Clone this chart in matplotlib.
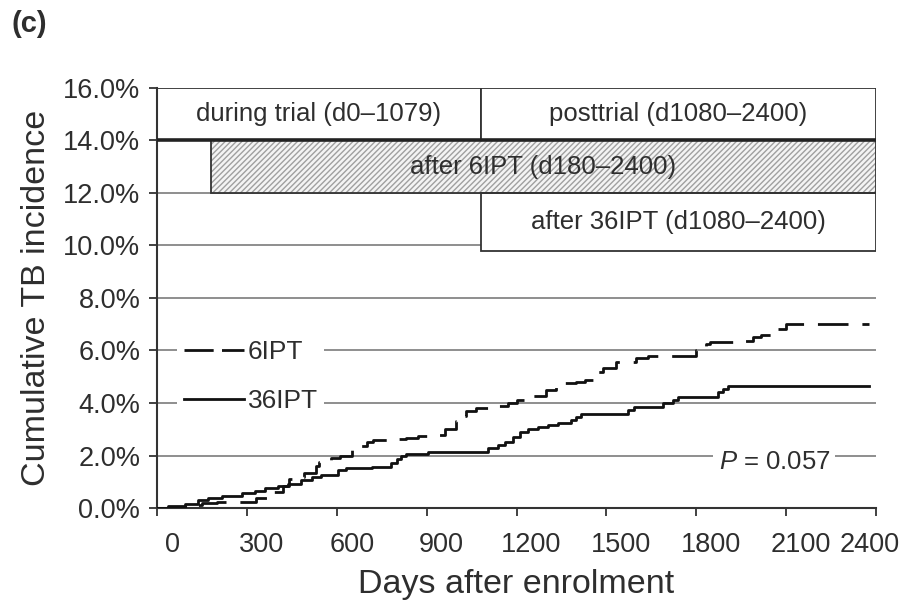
import matplotlib.pyplot as plt
import matplotlib.transforms as mtransforms
from matplotlib.patches import Rectangle
from matplotlib.lines import Line2D

plt.rcParams['font.family'] = ['Liberation Sans', 'DejaVu Sans']
plt.rcParams['mathtext.fontset'] = 'custom'
plt.rcParams['mathtext.it'] = 'Liberation Sans:italic'
plt.rcParams['mathtext.rm'] = 'Liberation Sans'
plt.rcParams['lines.scale_dashes'] = False

# Kaplan-Meier style cumulative incidence (days, %)
days_36ipt = [0, 38, 93, 138, 171, 216, 282, 327, 360, 404, 438, 482, 516, 549,
              604, 630, 716, 782, 800, 816, 830, 904, 1104, 1138, 1160, 1188,
              1210, 1238, 1271, 1304, 1338, 1382, 1399, 1416, 1571, 1593, 1688,
              1721, 1738, 1872, 1890, 1905, 2375]
inc_36ipt = [0.0, 0.08, 0.15, 0.30, 0.39, 0.45, 0.57, 0.66, 0.76, 0.84, 0.90,
             1.07, 1.17, 1.26, 1.45, 1.52, 1.57, 1.71, 1.85, 2.00, 2.06, 2.15,
             2.28, 2.40, 2.50, 2.70, 2.91, 3.00, 3.07, 3.16, 3.25, 3.35, 3.48,
             3.60, 3.74, 3.84, 3.99, 4.10, 4.24, 4.40, 4.55, 4.65, 4.65]

days_6ipt = [0, 40, 100, 150, 200, 330, 380, 420, 440, 452, 490, 530, 540, 565,
             582, 610, 650, 670, 700, 721, 780, 832, 870, 900, 960, 999, 1010,
             1030, 1066, 1130, 1171, 1200, 1230, 1249, 1300, 1332, 1400, 1427,
             1465, 1490, 1532, 1600, 1638, 1800, 1832, 1845, 1930, 1990, 2016,
             2060, 2099, 2375]
inc_6ipt = [0.0, 0.05, 0.12, 0.20, 0.24, 0.40, 0.60, 0.85, 1.10, 1.17, 1.35,
            1.60, 1.76, 1.82, 1.89, 2.00, 2.21, 2.35, 2.50, 2.59, 2.64, 2.68,
            2.75, 2.80, 3.00, 3.30, 3.50, 3.70, 3.80, 3.90, 4.00, 4.10, 4.20,
            4.28, 4.50, 4.75, 4.80, 4.88, 5.19, 5.35, 5.57, 5.70, 5.80, 6.00,
            6.23, 6.33, 6.37, 6.50, 6.59, 6.80, 7.01, 7.01]

period_labels = ['during trial (d0\u20131079)', 'posttrial (d1080\u20132400)',
                 'after 6IPT (d180\u20132400)', 'after 36IPT (d1080\u20132400)']
period_start = [0, 1080, 180, 1080]
period_end = [1080, 2400, 2400, 2400]

x_ticks = list(range(0, 2401, 300))
y_ticks = list(range(0, 17, 2))

txt = '#2e2e2e'
grid_c = '#7c7c7c'

fig = plt.figure(figsize=(9.05, 6.01), dpi=100)
ax = fig.add_axes([0.1735, 0.1547, 0.7945, 0.699])

# gridlines
for y in y_ticks[1:-1]:
    ax.axhline(y, color=grid_c, lw=1.2, zorder=1)

# period boxes (rows: 14-16, 12-14, 9.8-12)
rows = [(14, 2), (14, 2), (12, 2), (9.8, 2.2)]
for i, lab in enumerate(period_labels):
    y0, h = rows[i]
    x0, x1 = period_start[i], period_end[i]
    if i == 2:
        ax.add_patch(Rectangle((x0, y0), x1 - x0, h, facecolor='#f4f4f4',
                               edgecolor='#a0a0a0', hatch='//////', lw=0, zorder=2))
        ax.add_patch(Rectangle((x0, y0), x1 - x0, h, facecolor='none',
                               edgecolor='#333333', lw=1.3, zorder=2.5))
    else:
        ax.add_patch(Rectangle((x0, y0), x1 - x0, h, facecolor='white',
                               edgecolor='#333333', lw=1.3, zorder=2))
    ax.text((x0 + x1) / 2, y0 + h / 2, lab, ha='center', va='center',
            fontsize=18.5, color=txt, zorder=4)
ax.plot([0, 2400], [14, 14], color='#222222', lw=2.6, zorder=2.6)

# curves
ax.plot(days_6ipt, inc_6ipt, drawstyle='steps-post', color='#111111', lw=2.0,
        dashes=(22, 10), zorder=3)
ax.plot(days_36ipt, inc_36ipt, drawstyle='steps-post', color='#111111', lw=2.0,
        zorder=3)

handles = [Line2D([], [], color='#111111', lw=2.0, dashes=(21, 6)),
           Line2D([], [], color='#111111', lw=2.0)]
leg = ax.legend(handles, ['6IPT', '36IPT'], loc='center left',
                bbox_to_anchor=(0.028, 0.3125), fontsize=19, frameon=True,
                facecolor='white', edgecolor='none', framealpha=1,
                fancybox=False, handlelength=2.3, handletextpad=0.12,
                labelspacing=0.95, borderpad=0.25, borderaxespad=0)
leg.set_zorder(5)
for t in leg.get_texts():
    t.set_color(txt)

ax.text(2060, 1.75, '$P$ = 0.057', ha='center', va='center', fontsize=18.5,
        color=txt, zorder=5,
        bbox=dict(facecolor='white', edgecolor='none', pad=4))

ax.set_xlim(0, 2400)
ax.set_ylim(0, 16)
ax.set_xticks(x_ticks)
ax.set_yticks(y_ticks)
ax.set_yticklabels(['%.1f%%' % v for v in y_ticks])
ax.tick_params(axis='both', direction='out', length=6, width=1.3,
               colors='#333333', labelsize=19.5, labelcolor=txt)
ax.tick_params(axis='y', pad=6)
ax.tick_params(axis='x', pad=11)
for s in ['top', 'right']:
    ax.spines[s].set_visible(False)
for s in ['left', 'bottom']:
    ax.spines[s].set_color('#333333')
    ax.spines[s].set_linewidth(1.5)

ax.set_xlabel('Days after enrolment', fontsize=24.5, color=txt, labelpad=8)
ax.set_ylabel('Cumulative TB incidence', fontsize=24.5, color=txt, labelpad=8)

xlabs = ax.get_xticklabels()
for i, lab in enumerate(xlabs):
    dx = 15 if i < len(xlabs) - 1 else -6
    off = mtransforms.ScaledTranslation(dx / 100, 0, fig.dpi_scale_trans)
    lab.set_transform(lab.get_transform() + off)

fig.text(0.013, 0.96, '(c)', fontsize=21, fontweight='bold', color=txt,
         ha='left', va='center')

fig.savefig('out.png', dpi=100)
